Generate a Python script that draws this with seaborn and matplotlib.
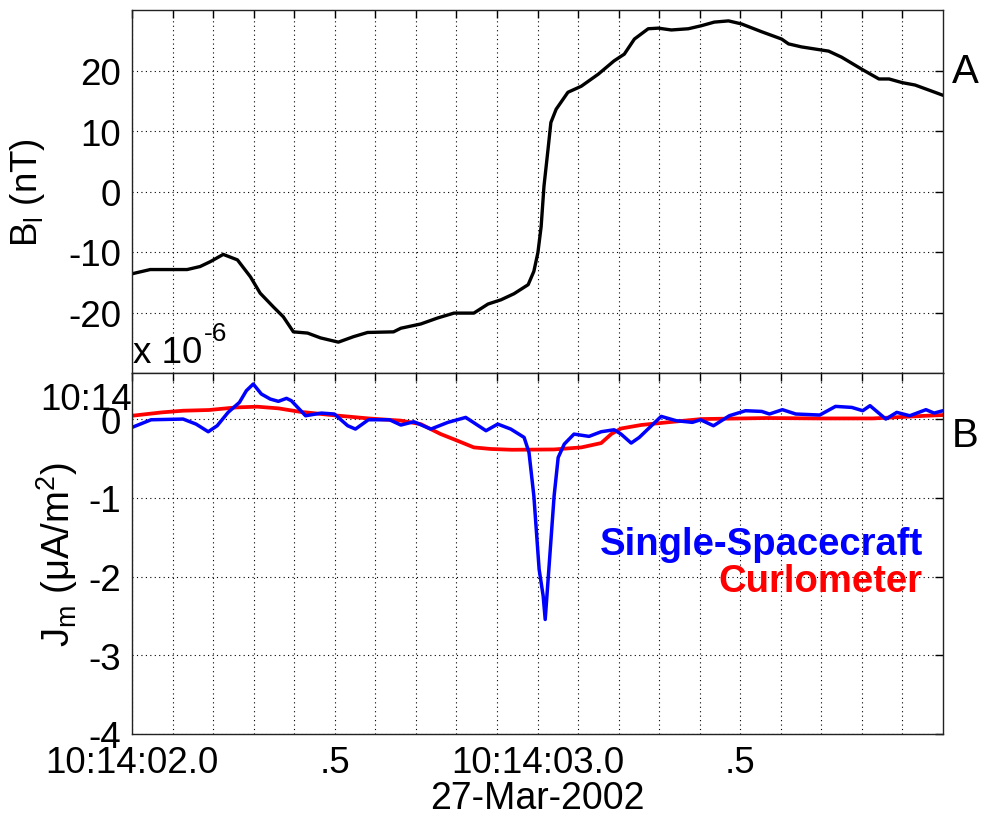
import numpy as np
import pandas as pd
import matplotlib
matplotlib.use("Agg")
import matplotlib.pyplot as plt
import seaborn as sns

# ---- data (time in seconds after 10:14:02.0) ----
b_time = [0.000, 0.045, 0.136, 0.168, 0.193, 0.225, 0.260, 0.292, 0.316, 0.349,
          0.373, 0.398, 0.433, 0.465, 0.509, 0.546, 0.581, 0.645, 0.663, 0.712,
          0.754, 0.794, 0.843, 0.878, 0.910, 0.942, 0.977, 0.991, 1.001, 1.009,
          1.016, 1.026, 1.033, 1.046, 1.075, 1.108, 1.150, 1.189, 1.214, 1.239,
          1.273, 1.298, 1.330, 1.372, 1.404, 1.436, 1.471, 1.503, 1.553, 1.602,
          1.619, 1.651, 1.718, 1.750, 1.800, 1.842, 1.867, 1.899, 1.931, 1.980,
          2.000]
b_field = [-13.6, -12.9, -12.9, -12.4, -11.6, -10.4, -11.3, -14.1, -16.8, -19.1,
           -20.7, -23.2, -23.4, -24.2, -24.9, -24.0, -23.3, -23.2, -22.6, -21.9,
           -20.9, -20.1, -20.1, -18.6, -17.9, -16.9, -15.4, -13.2, -10.1, -5.8,
           0.9, 7.0, 11.4, 13.6, 16.4, 17.4, 19.4, 21.6, 22.7, 25.2,
           26.9, 27.0, 26.7, 26.9, 27.4, 28.0, 28.2, 27.7, 26.4, 25.2,
           24.4, 23.9, 23.2, 22.2, 20.2, 18.6, 18.6, 18.0, 17.6, 16.4,
           15.9]

ss_time = [0.000, 0.047, 0.126, 0.158, 0.188, 0.210, 0.237, 0.265, 0.282, 0.299,
           0.319, 0.341, 0.361, 0.381, 0.393, 0.428, 0.467, 0.499, 0.532, 0.551,
           0.583, 0.635, 0.663, 0.695, 0.737, 0.779, 0.823, 0.873, 0.902, 0.934,
           0.967, 0.979, 0.991, 1.004, 1.014, 1.019, 1.028, 1.041, 1.051, 1.066,
           1.090, 1.127, 1.157, 1.189, 1.206, 1.231, 1.251, 1.305, 1.342, 1.382,
           1.402, 1.434, 1.473, 1.513, 1.553, 1.572, 1.604, 1.637, 1.696, 1.735,
           1.775, 1.802, 1.820, 1.859, 1.886, 1.918, 1.958, 1.978, 2.000]
ss_j = [-0.106, -0.009, 0.000, -0.064, -0.161, -0.085, 0.085, 0.212, 0.360, 0.445,
        0.318, 0.254, 0.225, 0.263, 0.233, 0.042, 0.076, 0.064, -0.085, -0.127,
        -0.009, -0.009, -0.076, -0.034, -0.127, -0.042, 0.021, -0.148, -0.064, -0.127,
        -0.233, -0.424, -0.975, -1.908, -2.248, -2.545, -1.908, -0.975, -0.488, -0.318,
        -0.191, -0.220, -0.161, -0.136, -0.191, -0.305, -0.233, 0.034, -0.021, -0.042,
        -0.009, -0.085, 0.042, 0.106, 0.097, 0.064, 0.119, 0.064, 0.051, 0.161,
        0.148, 0.106, 0.170, 0.000, 0.085, 0.042, 0.119, 0.076, 0.106]

cm_time = [0.000, 0.074, 0.126, 0.190, 0.257, 0.309, 0.361, 0.413, 0.492, 0.583,
           0.663, 0.712, 0.761, 0.803, 0.843, 0.885, 0.937, 1.041, 1.108, 1.157,
           1.182, 1.206, 1.256, 1.323, 1.404, 1.565, 1.696, 1.827, 1.958, 2.000]
cm_j = [0.042, 0.085, 0.106, 0.115, 0.148, 0.157, 0.136, 0.093, 0.051, 0.008,
        -0.020, -0.064, -0.190, -0.276, -0.360, -0.380, -0.390, -0.386, -0.360, -0.305,
        -0.190, -0.120, -0.075, -0.040, 0.000, 0.013, 0.008, 0.008, 0.042, 0.051]

x_tick_values = [i / 10 for i in range(20)]
x_tick_labels = ["10:14:02.0", "", "", "", "", ".5", "", "", "", "",
                 "10:14:03.0", "", "", "", "", ".5", "", "", "", ""]
b_ticks = [-20, -10, 0, 10, 20]
j_ticks = [-4, -3, -2, -1, 0]
date_label = "27-Mar-2002"

# ---- style ----
sns.set_theme(style="white")
plt.rcParams["font.family"] = ["Liberation Sans", "DejaVu Sans"]
plt.rcParams["mathtext.fontset"] = "custom"
plt.rcParams["mathtext.rm"] = "Liberation Sans"
plt.rcParams["mathtext.it"] = "Liberation Sans"
plt.rcParams["mathtext.bf"] = "Liberation Sans:bold"
plt.rcParams["mathtext.default"] = "regular"
plt.rcParams["axes.unicode_minus"] = False
plt.rcParams["text.color"] = "black"
plt.rcParams["axes.labelcolor"] = "black"
plt.rcParams["xtick.color"] = "black"
plt.rcParams["ytick.color"] = "black"

W, H = 984, 820
fig = plt.figure(figsize=(W / 100, H / 100), dpi=100)
ax1 = fig.add_axes([132 / W, 1 - 374 / H, 811 / W, 363 / H])
ax2 = fig.add_axes([132 / W, 1 - 735 / H, 811 / W, 361 / H])

df_b = pd.DataFrame({"t": b_time, "v": b_field})
df_ss = pd.DataFrame({"t": ss_time, "v": ss_j})
df_cm = pd.DataFrame({"t": cm_time, "v": cm_j})

sns.lineplot(data=df_b, x="t", y="v", ax=ax1, color="black", linewidth=2.4,
             estimator=None, sort=False)
sns.lineplot(data=df_cm, x="t", y="v", ax=ax2, color="#ff0000", linewidth=2.7,
             estimator=None, sort=False)
sns.lineplot(data=df_ss, x="t", y="v", ax=ax2, color="#0000ff", linewidth=2.5,
             estimator=None, sort=False)

for ax in (ax1, ax2):
    ax.set_xlim(0, 2.0)
    ax.set_xticks(x_tick_values)
    ax.tick_params(direction="in", length=6, width=1, top=True, right=True,
                   labelsize=26.5, pad=8, colors="black", labelcolor="black")
    ax.grid(True, linestyle=(0, (1, 3)), color="black", linewidth=0.8)
    for s in ax.spines.values():
        s.set_color("#222222")
        s.set_linewidth(1.0)
    ax.set_xlabel("")
    ax.set_ylabel("")
    ax.set_facecolor("white")

ax1.set_ylim(-30, 30)
ax1.set_yticks(b_ticks)
ax1.set_xticklabels([])

ax2.set_ylim(-4, 0.585)
ax2.set_yticks(j_ticks)
ax2.set_xticklabels(x_tick_labels)
ax2.tick_params(axis="x", pad=8)
ax2.set_xlabel(date_label, fontsize=27, labelpad=0, color="black")

ax1.set_ylabel("B$_l$ (nT)", fontsize=26.5, color="black")
ax1.yaxis.set_label_coords(-0.105, 0.5)
ax2.set_ylabel("J$_m$ ($\\mu$A/m$^2$)", fontsize=27.5, color="black")
ax2.yaxis.set_label_coords(-0.064, 0.5)

# stray MATLAB labels
ax2.text(0.0, 0.25, "10:14", fontsize=26.5, ha="right", va="center",
         color="black", transform=ax2.get_yaxis_transform(), clip_on=False)
fig.text(133 / W, 1 - 363 / H, "x 10", fontsize=26.5, ha="left",
         va="baseline", color="black")
fig.text(204 / W, 1 - 341 / H, "-6", fontsize=19, ha="left",
         va="baseline", color="black")

fig.text(952 / W, 1 - 83 / H, "A", fontsize=29, ha="left", va="baseline",
         color="black")
fig.text(952 / W, 1 - 447 / H, "B", fontsize=29, ha="left", va="baseline",
         color="black")

fig.text(923 / W, 1 - 555 / H, "Single-Spacecraft", fontsize=27.5,
         fontweight="bold", color="#0000ff", ha="right", va="baseline")
fig.text(922 / W, 1 - 592 / H, "Curlometer", fontsize=27.5,
         fontweight="bold", color="#ff0000", ha="right", va="baseline")

fig.savefig("out.png", dpi=100, facecolor="white")
